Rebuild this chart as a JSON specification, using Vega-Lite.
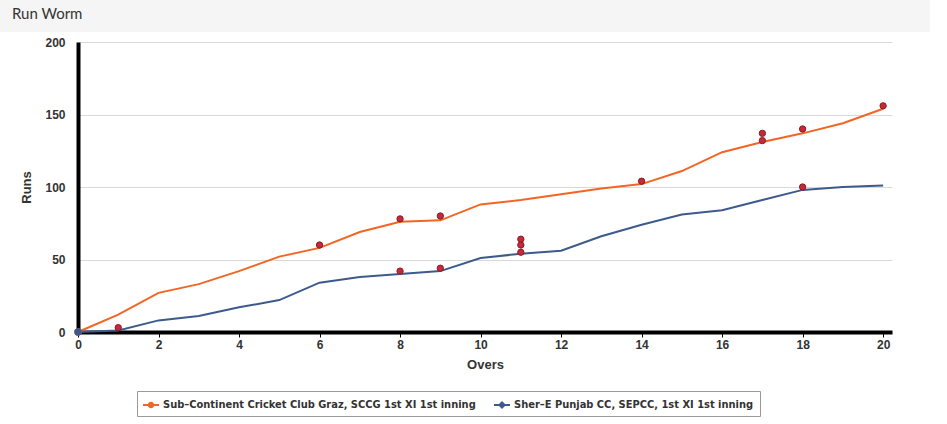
{
  "$schema": "https://vega.github.io/schema/vega-lite/v6.json",
  "padding": 0,
  "spacing": {"row": 4, "column": 0},
  "align": "none",
  "columns": 2,
  "background": "white",
  "config": {"view": {"stroke": null}, "font": "Liberation Sans"},
  "datasets": {
    "worm": [
      {"over": 0, "runs": 0, "team": "Sub–Continent Cricket Club Graz, SCCG 1st XI 1st inning"},
      {"over": 1, "runs": 12, "team": "Sub–Continent Cricket Club Graz, SCCG 1st XI 1st inning"},
      {"over": 2, "runs": 27, "team": "Sub–Continent Cricket Club Graz, SCCG 1st XI 1st inning"},
      {"over": 3, "runs": 33, "team": "Sub–Continent Cricket Club Graz, SCCG 1st XI 1st inning"},
      {"over": 4, "runs": 42, "team": "Sub–Continent Cricket Club Graz, SCCG 1st XI 1st inning"},
      {"over": 5, "runs": 52, "team": "Sub–Continent Cricket Club Graz, SCCG 1st XI 1st inning"},
      {"over": 6, "runs": 58, "team": "Sub–Continent Cricket Club Graz, SCCG 1st XI 1st inning"},
      {"over": 7, "runs": 69, "team": "Sub–Continent Cricket Club Graz, SCCG 1st XI 1st inning"},
      {"over": 8, "runs": 76, "team": "Sub–Continent Cricket Club Graz, SCCG 1st XI 1st inning"},
      {"over": 9, "runs": 77, "team": "Sub–Continent Cricket Club Graz, SCCG 1st XI 1st inning"},
      {"over": 10, "runs": 88, "team": "Sub–Continent Cricket Club Graz, SCCG 1st XI 1st inning"},
      {"over": 11, "runs": 91, "team": "Sub–Continent Cricket Club Graz, SCCG 1st XI 1st inning"},
      {"over": 12, "runs": 95, "team": "Sub–Continent Cricket Club Graz, SCCG 1st XI 1st inning"},
      {"over": 13, "runs": 99, "team": "Sub–Continent Cricket Club Graz, SCCG 1st XI 1st inning"},
      {"over": 14, "runs": 102, "team": "Sub–Continent Cricket Club Graz, SCCG 1st XI 1st inning"},
      {"over": 15, "runs": 111, "team": "Sub–Continent Cricket Club Graz, SCCG 1st XI 1st inning"},
      {"over": 16, "runs": 124, "team": "Sub–Continent Cricket Club Graz, SCCG 1st XI 1st inning"},
      {"over": 17, "runs": 131, "team": "Sub–Continent Cricket Club Graz, SCCG 1st XI 1st inning"},
      {"over": 18, "runs": 137, "team": "Sub–Continent Cricket Club Graz, SCCG 1st XI 1st inning"},
      {"over": 19, "runs": 144, "team": "Sub–Continent Cricket Club Graz, SCCG 1st XI 1st inning"},
      {"over": 20, "runs": 154, "team": "Sub–Continent Cricket Club Graz, SCCG 1st XI 1st inning"},
      {"over": 0, "runs": 0, "team": "Sher–E Punjab CC, SEPCC, 1st XI 1st inning"},
      {"over": 1, "runs": 1, "team": "Sher–E Punjab CC, SEPCC, 1st XI 1st inning"},
      {"over": 2, "runs": 8, "team": "Sher–E Punjab CC, SEPCC, 1st XI 1st inning"},
      {"over": 3, "runs": 11, "team": "Sher–E Punjab CC, SEPCC, 1st XI 1st inning"},
      {"over": 4, "runs": 17, "team": "Sher–E Punjab CC, SEPCC, 1st XI 1st inning"},
      {"over": 5, "runs": 22, "team": "Sher–E Punjab CC, SEPCC, 1st XI 1st inning"},
      {"over": 6, "runs": 34, "team": "Sher–E Punjab CC, SEPCC, 1st XI 1st inning"},
      {"over": 7, "runs": 38, "team": "Sher–E Punjab CC, SEPCC, 1st XI 1st inning"},
      {"over": 8, "runs": 40, "team": "Sher–E Punjab CC, SEPCC, 1st XI 1st inning"},
      {"over": 9, "runs": 42, "team": "Sher–E Punjab CC, SEPCC, 1st XI 1st inning"},
      {"over": 10, "runs": 51, "team": "Sher–E Punjab CC, SEPCC, 1st XI 1st inning"},
      {"over": 11, "runs": 54, "team": "Sher–E Punjab CC, SEPCC, 1st XI 1st inning"},
      {"over": 12, "runs": 56, "team": "Sher–E Punjab CC, SEPCC, 1st XI 1st inning"},
      {"over": 13, "runs": 66, "team": "Sher–E Punjab CC, SEPCC, 1st XI 1st inning"},
      {"over": 14, "runs": 74, "team": "Sher–E Punjab CC, SEPCC, 1st XI 1st inning"},
      {"over": 15, "runs": 81, "team": "Sher–E Punjab CC, SEPCC, 1st XI 1st inning"},
      {"over": 16, "runs": 84, "team": "Sher–E Punjab CC, SEPCC, 1st XI 1st inning"},
      {"over": 17, "runs": 91, "team": "Sher–E Punjab CC, SEPCC, 1st XI 1st inning"},
      {"over": 18, "runs": 98, "team": "Sher–E Punjab CC, SEPCC, 1st XI 1st inning"},
      {"over": 19, "runs": 100, "team": "Sher–E Punjab CC, SEPCC, 1st XI 1st inning"},
      {"over": 20, "runs": 101, "team": "Sher–E Punjab CC, SEPCC, 1st XI 1st inning"}
    ],
    "wickets": [
      {"over": 1, "runs": 3},
      {"over": 6, "runs": 60},
      {"over": 8, "runs": 78},
      {"over": 8, "runs": 42},
      {"over": 9, "runs": 80},
      {"over": 9, "runs": 44},
      {"over": 11, "runs": 64},
      {"over": 11, "runs": 60},
      {"over": 11, "runs": 55},
      {"over": 14, "runs": 104},
      {"over": 17, "runs": 137},
      {"over": 17, "runs": 132},
      {"over": 18, "runs": 140},
      {"over": 18, "runs": 100},
      {"over": 20, "runs": 156}
    ]
  },
  "concat": [
    {
      "width": 12,
      "height": 32,
      "view": {"fill": "#f5f5f5", "stroke": null},
      "data": {"values": [{}]},
      "mark": {"type": "rect", "opacity": 0}
    },
    {
      "width": 918,
      "height": 32,
      "view": {"fill": "#f5f5f5", "stroke": null},
      "data": {"values": [{"label": "Run Worm"}]},
      "mark": {"type": "text", "align": "left", "baseline": "middle", "dy": -2, "font": "Lato", "fontSize": 15, "color": "#333333"},
      "encoding": {
        "x": {"field": "label", "type": "nominal", "scale": {"type": "point", "padding": 0, "align": 0}, "axis": null},
        "text": {"field": "label", "type": "nominal"}
      }
    },
    {
      "width": 12,
      "height": 1,
      "data": {"values": [{}]},
      "mark": {"type": "rect", "opacity": 0}
    },
    {
      "width": 814,
      "height": 290,
      "encoding": {
        "x": {
          "field": "over",
          "type": "quantitative",
          "scale": {"domain": [0, 20.22], "nice": false},
          "axis": {
            "values": [0, 2, 4, 6, 8, 10, 12, 14, 16, 18, 20],
            "grid": false,
            "domainColor": "black",
            "domainWidth": 4,
            "tickColor": "black",
            "tickSize": 5,
            "labelFlush": false,
            "labelFontWeight": "bold",
            "labelFontSize": 12,
            "labelColor": "#333333",
            "labelPadding": 2,
            "title": "Overs",
            "titleFontSize": 13,
            "titleFontWeight": "bold",
            "titleColor": "#333333",
            "titlePadding": 8
          }
        },
        "y": {
          "field": "runs",
          "type": "quantitative",
          "scale": {"domain": [0, 200], "nice": false},
          "axis": {
            "values": [0, 50, 100, 150, 200],
            "grid": true,
            "gridColor": "#d9d9d9",
            "ticks": false,
            "domainColor": "black",
            "domainWidth": 4,
            "labelFontWeight": "bold",
            "labelFontSize": 12,
            "labelColor": "#333333",
            "labelPadding": 13,
            "title": ["", "Runs"],
            "titleLineHeight": 8,
            "titleFontSize": 13,
            "titleFontWeight": "bold",
            "titleColor": "#333333",
            "titlePadding": 11
          }
        },
        "color": {
          "field": "team",
          "type": "nominal",
          "scale": {
            "domain": ["Sub–Continent Cricket Club Graz, SCCG 1st XI 1st inning", "Sher–E Punjab CC, SEPCC, 1st XI 1st inning"],
            "range": ["#f26522", "#3c5a8c"]
          },
          "legend": {
            "orient": "none",
            "legendX": 137,
            "legendY": 391,
            "direction": "horizontal",
            "title": null,
            "strokeColor": "#999999",
            "fillColor": "white",
            "padding": 6,
            "columnPadding": 18,
            "labelLimit": 500,
            "labelFont": "DejaVu Sans Condensed",
            "labelFontSize": 11,
            "labelFontWeight": "bold",
            "labelColor": "#333333",
            "labelOffset": 4,
            "symbolSize": 256,
            "symbolStrokeWidth": 0,
            "symbolOpacity": 1
          }
        }
      },
      "layer": [
        {
          "data": {"name": "worm"},
          "transform": [{"filter": "datum.over < 0"}],
          "mark": {"type": "point", "filled": true, "opacity": 1},
          "encoding": {
            "shape": {
              "field": "team",
              "type": "nominal",
              "scale": {
                "domain": ["Sub–Continent Cricket Club Graz, SCCG 1st XI 1st inning", "Sher–E Punjab CC, SEPCC, 1st XI 1st inning"],
                "range": [
                  "M-1,-0.12H1V0.12H-1Z M0.4,0A0.4,0.4 0 1,1 -0.4,0A0.4,0.4 0 1,1 0.4,0Z",
                  "M-1,-0.12H1V0.12H-1Z M0,-0.5L0.5,0L0,0.5L-0.5,0Z"
                ]
              }
            }
          }
        },
        {
          "data": {"name": "worm"},
          "mark": {"type": "line", "strokeWidth": 2}
        },
        {
          "data": {"name": "worm"},
          "transform": [{"filter": "datum.over == 0"}],
          "mark": {"type": "point", "filled": true, "size": 55, "opacity": 1}
        },
        {
          "data": {"name": "wickets"},
          "mark": {"type": "point", "filled": true, "size": 40, "color": "#c62a38", "stroke": "#8a1c26", "strokeWidth": 1, "opacity": 1},
          "encoding": {"color": {"value": "#c62a38"}}
        }
      ]
    }
  ]
}
